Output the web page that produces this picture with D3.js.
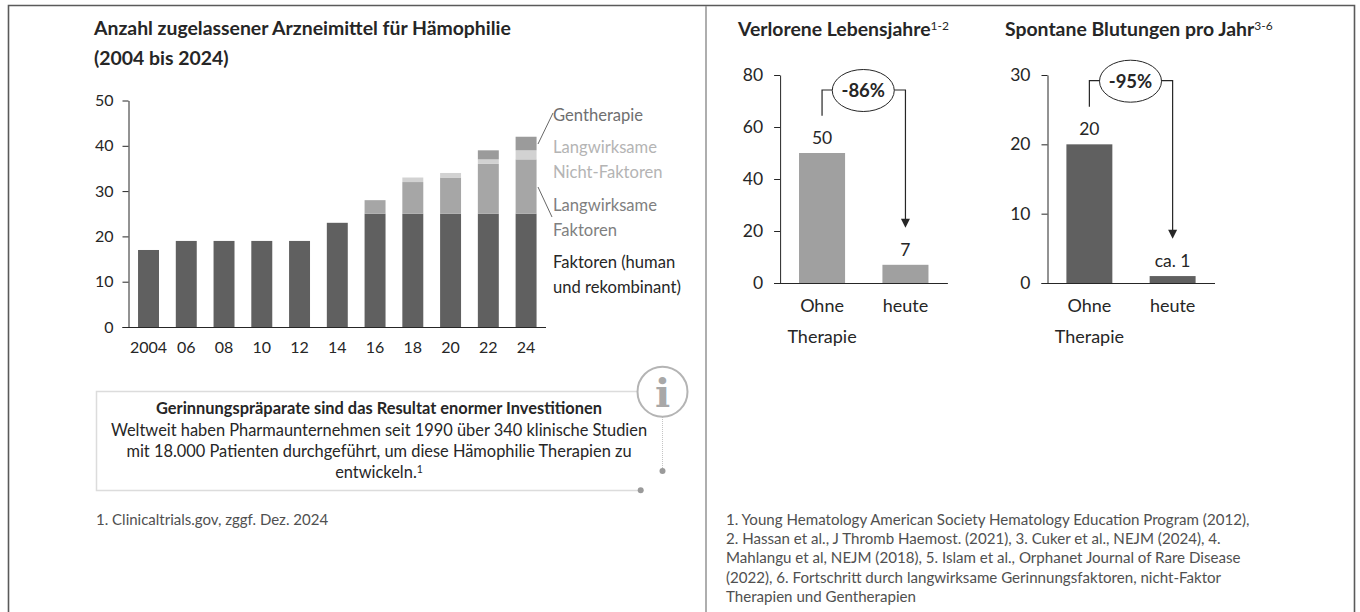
<!DOCTYPE html>
<html>
<head>
<meta charset="utf-8">
<script src="https://cdn.jsdelivr.net/npm/d3@7"></script>
<style>
html, body { margin: 0; padding: 0; background: #fff; }
svg { display: block; }
text { font-family: Lato, "Open Sans", sans-serif; fill: #262626; }
</style>
</head>
<body>
<svg width="1360" height="612"></svg>
<script>
// linkes Diagramm
var jahre = ['2004', '06', '08', '10', '12', '14', '16', '18', '20', '22', '24']
var faktoren = [17, 19, 19, 19, 19, 23, 25, 25, 25, 25, 25]
var langFaktoren = [0, 0, 0, 0, 0, 0, 3, 7, 8, 11, 12]
var langNichtFaktoren = [0, 0, 0, 0, 0, 0, 0, 1, 1, 1, 2]
var gentherapie = [0, 0, 0, 0, 0, 0, 0, 0, 0, 2, 3]
var ticksLinks = [0, 10, 20, 30, 40, 50]

// rechte Diagramme
var kategorien = ['Ohne', 'heute']
var lebensjahre = [50, 7]
var lebensjahreLabels = ['50', '7']
var blutungen = [20, 1]
var blutungenLabels = ['20', 'ca. 1']
var ticksLeben = [0, 20, 40, 60, 80]
var ticksBlut = [0, 10, 20, 30]

var svg = d3.select('svg')

function txt(x, y, s, size, opts) {
    opts = opts || {}
    return svg.append('text')
        .attr('x', x).attr('y', y)
        .attr('font-size', size)
        .attr('font-weight', opts.bold ? 700 : 400)
        .attr('text-anchor', opts.anchor || 'start')
        .style('fill', opts.fill || '#262626')
        .text(s)
}

// rahmen
svg.append('path').attr('d', 'M8.5,612 V5.5 H1354.5 V612')
    .attr('fill', 'none').attr('stroke', '#5a5a5a').attr('stroke-width', 1.6)
svg.append('line').attr('x1', 706).attr('x2', 706).attr('y1', 6).attr('y2', 612)
    .attr('stroke', '#9a9a9a').attr('stroke-width', 1.6)

// titel links
txt(94, 35, 'Anzahl zugelassener Arzneimittel für Hämophilie', 19.4, {bold: true})
txt(94, 65, '(2004 bis 2024)', 19.4, {bold: true})

// gestapelte balken
var x = d3.scaleBand().domain(jahre).range([128.6, 546]).paddingInner(0.445).paddingOuter(0.25)
var y = d3.scaleLinear().domain([0, 50]).range([327, 100.5])

var rows = jahre.map(function(j, i) {
    return {jahr: j, f: faktoren[i], lf: langFaktoren[i], ln: langNichtFaktoren[i], g: gentherapie[i]}
})
var stack = d3.stack().keys(['f', 'lf', 'ln', 'g'])(rows)
var farben = {f: '#606060', lf: '#a6a6a6', ln: '#d2d2d2', g: '#9b9b9b'}

svg.selectAll('g.serie')
    .data(stack)
    .enter()
    .append('g')
    .attr('class', 'serie')
    .attr('fill', function(d) { return farben[d.key] })
    .selectAll('rect')
    .data(function(d) { return d })
    .enter()
    .append('rect')
    .attr('x', function(d) { return x(d.data.jahr) })
    .attr('width', x.bandwidth())
    .attr('y', function(d) { return y(d[1]) })
    .attr('height', function(d) { return y(d[0]) - y(d[1]) })

function achsen(sy, ticks, x0, x1, size, pad) {
    var yA = svg.append('g').attr('transform', 'translate(' + x0 + ',0)')
        .call(d3.axisLeft(sy).tickValues(ticks).tickSize(6).tickSizeOuter(0).tickPadding(pad))
    yA.select('.domain').attr('stroke', '#262626')
    yA.selectAll('line').attr('stroke', '#262626')
    yA.selectAll('text').attr('font-size', size).attr('font-family', 'Lato').style('fill', '#262626')
    svg.append('line').attr('x1', x0 - 6).attr('x2', x1)
        .attr('y1', sy(0) + 0.5).attr('y2', sy(0) + 0.5)
        .attr('stroke', '#262626').attr('stroke-width', 1.2)
}
achsen(y, ticksLinks, 128.5, 546, 16, 9)

jahre.forEach(function(j) {
    txt(x(j) + x.bandwidth() / 2, 353, j, 16, {anchor: 'middle'})
})

// legende
txt(553, 121, 'Gentherapie', 16.6, {fill: '#6f6f6f'})
txt(553, 153, 'Langwirksame', 16.6, {fill: '#b4b4b4'})
txt(553, 178, 'Nicht-Faktoren', 16.6, {fill: '#b4b4b4'})
txt(553, 211, 'Langwirksame', 16.6, {fill: '#7f7f7f'})
txt(553, 236, 'Faktoren', 16.6, {fill: '#7f7f7f'})
txt(553, 268, 'Faktoren (human', 16.6)
txt(553, 293, 'und rekombinant)', 16.6)

function leader(x1, y1, x2, y2) {
    svg.append('line').attr('x1', x1).attr('y1', y1).attr('x2', x2).attr('y2', y2)
        .attr('stroke', '#404040').attr('stroke-width', 0.8)
}
leader(538, 144, 553, 113)
leader(538, 187, 552, 217)

// infokasten
svg.append('path')
    .attr('d', 'M637,391.5 H96.5 V490.5 H640')
    .attr('fill', 'none').attr('stroke', '#dcdcdc').attr('stroke-width', 1.5)
svg.append('circle').attr('cx', 640.7).attr('cy', 490.3).attr('r', 3).attr('fill', '#9a9a9a')
svg.append('line').attr('x1', 662.5).attr('x2', 662.5).attr('y1', 417).attr('y2', 470)
    .attr('stroke', '#c4c4c4').attr('stroke-dasharray', '1 1')
svg.append('circle').attr('cx', 662.5).attr('cy', 471).attr('r', 3).attr('fill', '#9a9a9a')
svg.append('circle').attr('cx', 662.5).attr('cy', 391.7).attr('r', 25)
    .attr('fill', '#fff').attr('stroke', '#b4b4b4').attr('stroke-width', 2)
svg.append('text').attr('x', 662.5).attr('y', 406.5).attr('text-anchor', 'middle')
    .attr('font-size', 40).attr('font-weight', 700)
    .style('font-family', 'DejaVu Serif').style('fill', '#a8a8a8').text('i')

txt(379, 414, 'Gerinnungspräparate sind das Resultat enormer Investitionen', 16.4, {anchor: 'middle', bold: true})
txt(379, 436, 'Weltweit haben Pharmaunternehmen seit 1990 über 340 klinische Studien', 16.4, {anchor: 'middle'})
txt(379, 457, 'mit 18.000 Patienten durchgeführt, um diese Hämophilie Therapien zu', 16.4, {anchor: 'middle'})
var ent = txt(379, 478, 'entwickeln.', 16.4, {anchor: 'middle'})
ent.append('tspan').attr('dy', -5).attr('font-size', 10.5).text('1')

txt(96, 525, '1. Clinicaltrials.gov, zggf. Dez. 2024', 15, {fill: '#505050'})

// kleine diagramme
function klein(o) {
    var sx = d3.scaleBand().domain(kategorien).range([o.x0, o.x1]).paddingInner(0.448).paddingOuter(0.233)
    var sy = d3.scaleLinear().domain([0, o.max]).range([283, 75])
    svg.selectAll('rect.k' + o.id)
        .data(o.werte)
        .enter()
        .append('rect')
        .attr('class', 'k' + o.id)
        .attr('x', function(d, i) { return sx(kategorien[i]) })
        .attr('width', sx.bandwidth())
        .attr('y', function(d) { return sy(d) })
        .attr('height', function(d) { return sy(0) - sy(d) })
        .attr('fill', o.farbe)
    achsen(sy, o.ticks, o.x0 + 0.5, o.x1, 17.5, 11)
    o.werte.forEach(function(d, i) {
        var cx = sx(kategorien[i]) + sx.bandwidth() / 2
        txt(cx, sy(d) - 9, o.labels[i], 17.5, {anchor: 'middle'})
        txt(cx, 312, kategorien[i], 18, {anchor: 'middle'})
    })
    txt(sx(kategorien[0]) + sx.bandwidth() / 2, 343, 'Therapie', 18, {anchor: 'middle'})

    // klammer mit pfeil
    var lx = sx(kategorien[0]) + sx.bandwidth() / 2
    var rx = sx(kategorien[1]) + sx.bandwidth() / 2
    svg.append('path')
        .attr('d', 'M' + lx + ',' + o.klammerStart + ' V' + o.klammerY + ' H' + rx + ' V' + (o.pfeilY - 8))
        .attr('fill', 'none').attr('stroke', '#262626').attr('stroke-width', 1.2)
    svg.append('path')
        .attr('d', 'M' + (rx - 4.5) + ',' + (o.pfeilY - 9) + ' h9 l-4.5,9 z').attr('fill', '#262626')
    var ex = (lx + rx) / 2 - 0.5
    svg.append('ellipse').attr('cx', ex).attr('cy', o.klammerY + 0.5).attr('rx', 31).attr('ry', 21)
        .attr('fill', '#fff').attr('stroke', '#262626').attr('stroke-width', 1)
    txt(ex, o.klammerY + 7, o.pct, 18.5, {anchor: 'middle', bold: true})
}

klein({id: 'a', x0: 779.6, x1: 947.9, max: 80, werte: lebensjahre, labels: lebensjahreLabels, ticks: ticksLeben,
    farbe: '#a0a0a0', klammerStart: 115.7, klammerY: 90, pfeilY: 227.7, pct: '-86%'})
klein({id: 'b', x0: 1047, x1: 1215, max: 30, werte: blutungen, labels: blutungenLabels, ticks: ticksBlut,
    farbe: '#606060', klammerStart: 106.7, klammerY: 80.7, pfeilY: 238.7, pct: '-95%'})

var t1 = txt(738, 36, 'Verlorene Lebensjahre', 19.4, {bold: true})
t1.append('tspan').attr('dy', -6).attr('font-size', 12).attr('font-weight', 400).text('1-2')
var t2 = txt(1005, 36, 'Spontane Blutungen pro Jahr', 19.4, {bold: true})
t2.append('tspan').attr('dy', -6).attr('font-size', 12).attr('font-weight', 400).text('3-6')

// quellen
var quellen = [
    '1. Young Hematology American Society Hematology Education Program (2012),',
    '2. Hassan et al., J Thromb Haemost. (2021), 3. Cuker et al., NEJM (2024), 4.',
    'Mahlangu et al, NEJM (2018), 5. Islam et al., Orphanet Journal of Rare Disease',
    '(2022), 6. Fortschritt durch langwirksame Gerinnungsfaktoren, nicht-Faktor',
    'Therapien und Gentherapien'
]
quellen.forEach(function(q, i) {
    txt(726, 525 + i * 19.2, q, 15.1, {fill: '#505050'})
})
</script>
</body>
</html>
